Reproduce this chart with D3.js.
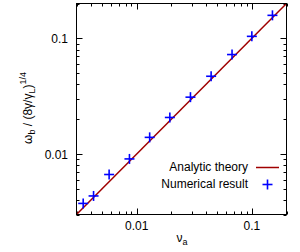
<!DOCTYPE html>
<html><head><meta charset="utf-8">
<script src="https://cdn.jsdelivr.net/npm/d3@7"></script>
<style>body{margin:0;background:#fff}svg{display:block}text{font-family:"Liberation Sans",Arial,sans-serif;fill:#000}</style>
</head><body>
<script>
const xDomain = [0.003, 0.2];
const yDomain = [0.003, 0.2];
const xTickLabels = [0.01, 0.1];
const yTickLabels = [0.01, 0.1];
const theoryX = [0.003, 0.2];
const theoryY = [0.003, 0.2];
const numX = [0.00343, 0.00422, 0.00576, 0.00865, 0.01296, 0.0194, 0.0293, 0.0443, 0.0673, 0.100, 0.151];
const numY = [0.00374, 0.00434, 0.00665, 0.00907, 0.01393, 0.0207, 0.0310, 0.0470, 0.0724, 0.104, 0.158];

const W = 300, H = 252;
const L = 76.5, R = 286.5, T = 3.5, B = 214.5;
const svg = d3.select("body").append("svg").attr("width", W).attr("height", H);
const x = d3.scaleLog().domain(xDomain).range([L, R]);
const y = d3.scaleLog().domain(yDomain).range([B, T]);

const minors = (dom) => {
  const out = [];
  for (let e = -3; e <= 0; e++) for (let m = 1; m <= 9; m++) {
    const v = m * Math.pow(10, e);
    if (v >= dom[0] * 0.999 && v <= dom[1] * 1.001) out.push(v);
  }
  return out;
};
const isMajor = v => xTickLabels.some(t => Math.abs(t - v) / t < 1e-6);

// ticks
const tk = svg.append("g").attr("stroke", "#000").attr("stroke-width", 1);
minors(xDomain).forEach(v => {
  const len = isMajor(v) ? 6 : 3;
  const px = Math.round(x(v)) + 0.5;
  tk.append("line").attr("x1", px).attr("x2", px).attr("y1", B).attr("y2", B - len);
  tk.append("line").attr("x1", px).attr("x2", px).attr("y1", T).attr("y2", T + len);
});
minors(yDomain).forEach(v => {
  const len = yTickLabels.some(t => Math.abs(t - v) / t < 1e-6) ? 6 : 3;
  const py = Math.round(y(v)) + 0.5;
  tk.append("line").attr("y1", py).attr("y2", py).attr("x1", L).attr("x2", L + len);
  tk.append("line").attr("y1", py).attr("y2", py).attr("x1", R).attr("x2", R - len);
});

// tick labels
xTickLabels.forEach(v => {
  svg.append("text").attr("x", x(v)).attr("y", 230).attr("text-anchor", "middle")
    .attr("font-size", 12).text(String(v));
});
yTickLabels.forEach(v => {
  svg.append("text").attr("x", 68).attr("y", y(v) + 4.5).attr("text-anchor", "end")
    .attr("font-size", 12).text(String(v));
});

// axis labels
const xl = svg.append("text").attr("x", 182).attr("y", 242).attr("text-anchor", "middle").attr("font-size", 12);
xl.append("tspan").text("ν");
xl.append("tspan").attr("font-size", 9).attr("dy", 3).text("a");

const yl = svg.append("text").attr("transform", "translate(32,108) rotate(-90)")
  .attr("text-anchor", "middle").attr("font-size", 12);
yl.append("tspan").text("ω");
yl.append("tspan").attr("font-size", 9).attr("dy", 3).text("b");
yl.append("tspan").attr("dy", -3).text(" / (8γ/γ");
yl.append("tspan").attr("font-size", 9).attr("dy", 3).text("L");
yl.append("tspan").attr("dy", -3).text(")");
yl.append("tspan").attr("font-size", 9).attr("dy", -6).text("1/4");

// theory line
const line = d3.line().x(d => x(d[0])).y(d => y(d[1]));
svg.append("path").datum(d3.zip(theoryX, theoryY)).attr("d", line)
  .attr("fill", "none").attr("stroke", "#a00000").attr("stroke-width", 1.5);

// numerical crosses
const s = 5;
const cg = svg.append("g").attr("stroke", "#0000ff").attr("stroke-width", 1.6);
d3.zip(numX, numY).forEach(d => {
  const cx = x(d[0]), cy = y(d[1]);
  cg.append("line").attr("x1", cx - s).attr("x2", cx + s).attr("y1", cy).attr("y2", cy);
  cg.append("line").attr("x1", cx).attr("x2", cx).attr("y1", cy - s).attr("y2", cy + s);
});

// legend
svg.append("text").attr("x", 248).attr("y", 171).attr("text-anchor", "end").attr("font-size", 12).text("Analytic theory");
svg.append("line").attr("x1", 256).attr("x2", 279).attr("y1", 167.5).attr("y2", 167.5)
  .attr("stroke", "#a00000").attr("stroke-width", 1.5);
svg.append("text").attr("x", 248).attr("y", 188).attr("text-anchor", "end").attr("font-size", 12).text("Numerical result");
const lx = 267.5, ly = 184.5;
cg.append("line").attr("x1", lx - s).attr("x2", lx + s).attr("y1", ly).attr("y2", ly);
cg.append("line").attr("x1", lx).attr("x2", lx).attr("y1", ly - s).attr("y2", ly + s);

// border
svg.append("rect").attr("x", L).attr("y", T).attr("width", R - L).attr("height", B - T)
  .attr("fill", "none").attr("stroke", "#000").attr("stroke-width", 1);
</script>
</body></html>
